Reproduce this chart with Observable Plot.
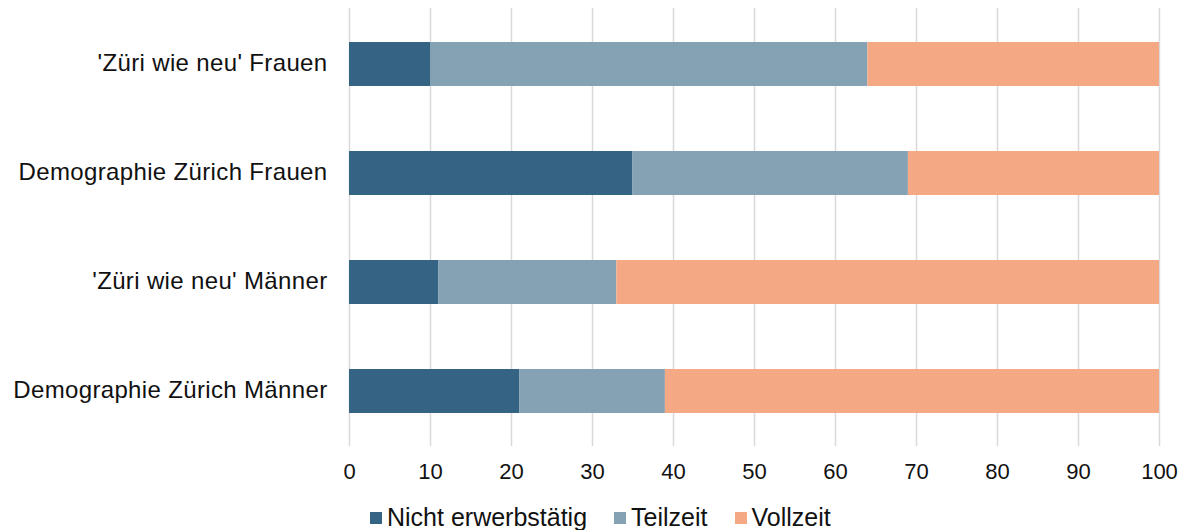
<!DOCTYPE html>
<html>
<head>
<meta charset="utf-8">
<script src="https://cdn.jsdelivr.net/npm/d3@7"></script>
<script src="https://cdn.jsdelivr.net/npm/@observablehq/plot@0.6"></script>
<style>
  body { margin: 0; background: #fff; }
  #legend { display: flex; align-items: center; margin-left: 370px; margin-top: 13px;
            font-family: "Liberation Sans", Arial, sans-serif; font-size: 25px; color: #111; line-height: 28px; }
  #legend .item { display: flex; align-items: center; margin-right: 27px; }
  #legend .sw { width: 12px; height: 12px; margin-right: 5px; margin-top: 2px; }
  g[aria-label="y-axis tick label"] text { letter-spacing: 0.35px; }
</style>
</head>
<body>
<div id="chart"></div>
<div id="legend"></div>
<script>
const categories = ["'Züri wie neu' Frauen", "Demographie Zürich Frauen", "'Züri wie neu' Männer", "Demographie Zürich Männer"];
const seriesNames = ["Nicht erwerbstätig", "Teilzeit", "Vollzeit"];
const nichtErwerbstaetig = [10, 35, 11, 21];
const teilzeit = [54, 34, 22, 18];
const vollzeit = [36, 31, 67, 61];
const seriesColors = ["#356384", "#85A2B4", "#F4A984"];
const xTicks = [0, 10, 20, 30, 40, 50, 60, 70, 80, 90, 100];

const seriesValues = [nichtErwerbstaetig, teilzeit, vollzeit];
const data = [];
categories.forEach((c, i) => {
  seriesNames.forEach((s, j) => data.push({category: c, series: s, value: seriesValues[j][i]}));
});

const chart = Plot.plot({
  width: 1191,
  height: 490,
  marginTop: 8,
  marginBottom: 44,
  marginLeft: 349,
  marginRight: 32,
  style: {background: "#fff", color: "#111", fontFamily: "Liberation Sans, Arial, sans-serif"},
  x: {domain: [0, 100], label: null},
  y: {domain: categories, paddingInner: 0.6, paddingOuter: 0.3, label: null},
  color: {domain: seriesNames, range: seriesColors},
  marks: [
    Plot.gridX(xTicks, {stroke: "#d9d9d9", strokeOpacity: 1, strokeWidth: 1.5}),
    Plot.barX(data, {y: "category", x: "value", fill: "series", order: seriesNames}),
    Plot.axisY({tickSize: 0, tickPadding: 22, fontSize: 24, fontFamily: "Liberation Sans", fill: "#111", label: null, dy: -1}),
    Plot.axisX(xTicks, {tickSize: 0, tickPadding: 17, fontSize: 22, fontFamily: "Liberation Sans", fill: "#111", label: null})
  ]
});
document.getElementById("chart").appendChild(chart);

const legend = document.getElementById("legend");
seriesNames.forEach((s, i) => {
  const item = document.createElement("div");
  item.className = "item";
  const sw = document.createElement("span");
  sw.className = "sw";
  sw.style.background = seriesColors[i];
  const t = document.createElement("span");
  t.textContent = s;
  item.appendChild(sw);
  item.appendChild(t);
  legend.appendChild(item);
});
</script>
</body>
</html>
